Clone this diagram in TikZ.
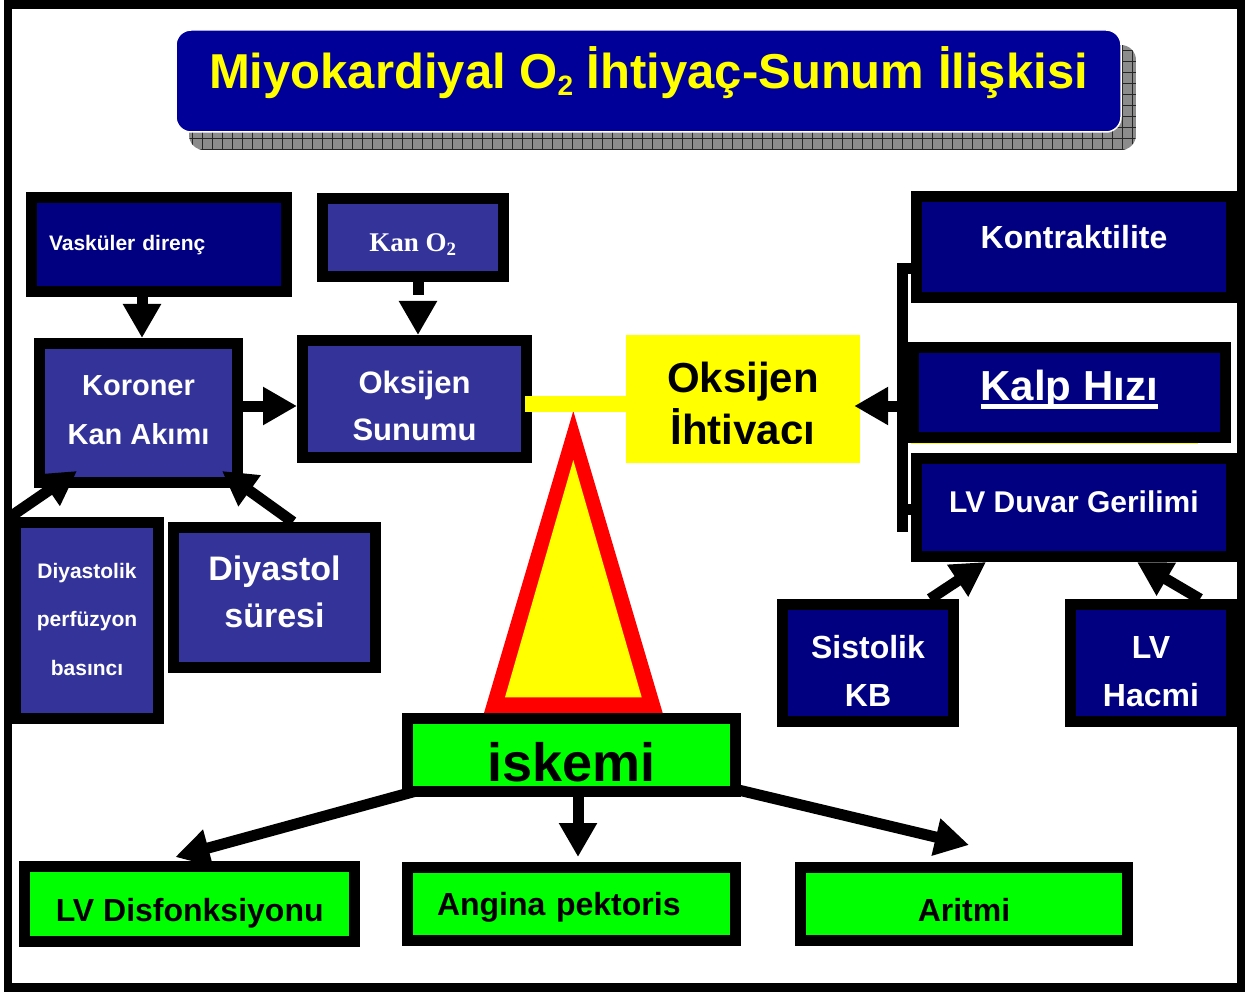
\documentclass[tikz,border=0pt]{standalone}
\usepackage{fontspec}
\setmainfont{Liberation Sans}
\newfontfamily\serifb{Liberation Serif}
\usetikzlibrary{arrows.meta,calc,backgrounds}
\definecolor{navyc}{HTML}{000080}
\definecolor{bluec}{HTML}{333399}
\definecolor{titlec}{HTML}{000099}
\definecolor{greenc}{HTML}{00FF00}
\definecolor{yellowc}{HTML}{FFFF00}
\definecolor{redc}{HTML}{FF0000}
% underlined label with a thick bar
\newcommand\kalpul[1]{\setbox0\hbox{#1}\rlap{\rule[-8.5pt]{\wd0}{4.5pt}}\box0}
\newcommand\fs[2]{\bfseries\fontsize{#1}{#2}\selectfont}
\tikzset{
  bx/.style={draw=black, line width=11pt, inner sep=0pt, align=center, text=white},
  gbx/.style={bx, fill=greenc, text=black},
  arr/.style={line width=11pt, -{Triangle[length=34pt,width=36pt]}},
  bar/.style={line width=11pt},
}
\begin{document}
\begin{tikzpicture}[x=1pt,y=-1pt]
\useasboundingbox (0,0) rectangle (1256,992);
% outer frame
\draw[line width=8.5pt] (8,4.3) rectangle (1241,987.5);

% title shadow with grid texture
\begin{scope}
  \clip[rounded corners=15pt] (189,45) rectangle (1136,150);
  \fill[black!45] (189,45) rectangle (1136,150);
  \foreach \gx in {192,202,...,1136} \draw[black!85, line width=0.8pt] (\gx,45) -- (\gx,150);
  \foreach \gy in {50,61,...,150} \draw[black!85, line width=0.8pt] (189,\gy) -- (1136,\gy);
\end{scope}
\node[draw=white, line width=1.5pt, fill=titlec, rounded corners=15pt, minimum width=945pt, minimum height=102pt,
      inner sep=0pt, text=yellowc, font=\fs{49}{55}, text height=15pt, text depth=0pt] (title) at (648.5,81)
      {Miyokardiyal O\raisebox{-7pt}{\fontsize{28}{28}\selectfont 2} İhtiyaç-Sunum İlişkisi};

% warning triangle
\fill[redc] (573.3,411) -- (662.7,713) -- (484,713) -- cycle;
\fill[yellowc] (573.3,460) -- (641.7,697.3) -- (505,697.3) -- cycle;

% supply side
\node[bx, fill=navyc, minimum width=255pt, minimum height=94pt, text width=220pt, align=left,
      font=\fs{21}{25}, text height=13pt, text depth=0pt] (vas) at (159,244.5) {Vasküler direnç};
\node[bx, fill=bluec, minimum width=181pt, minimum height=78pt,
      font=\serifb\fs{27}{30}, text height=29pt, text depth=0pt] (kano) at (413,237.5) {Kan O\textsubscript{2}};
\node[bx, fill=bluec, minimum width=198pt, minimum height=139pt,
      font=\fs{29}{49}, text height=62pt, text depth=0pt] (kor) at (138.5,413) {Koroner\\Kan Akımı};
\node[bx, fill=bluec, minimum width=224pt, minimum height=117pt,
      font=\fs{31}{47}, text height=82.6pt, text depth=0pt] (sun) at (414.5,399) {Oksijen\\Sunumu};
\node[bx, fill=bluec, minimum width=143pt, minimum height=196pt,
      font=\fs{21}{48.5}, text height=109pt, text depth=0pt] (dpb) at (87,620.5) {Diyastolik\\perfüzyon\\basıncı};
\node[bx, fill=bluec, minimum width=202pt, minimum height=140pt,
      font=\fs{34}{47}, text height=59pt, text depth=0pt] (dsu) at (274.5,597.5) {Diyastol\\süresi};

% demand side
\node[fill=yellowc, minimum width=234pt, minimum height=128pt, inner sep=0pt, align=center,
      font=\fs{42}{52}, text height=90pt, text depth=0pt] (iht) at (743,399) {Oksijen\\İhtiyacı};
\fill[yellowc] (660,443.5) rectangle (830,458);
\node[bx, fill=navyc, minimum width=315pt, minimum height=101pt,
      font=\fs{32}{36}, text height=4pt, text depth=0pt] (kon) at (1074,247) {Kontraktilite};
\node[bx, fill=navyc, minimum width=311.7pt, minimum height=89.7pt,
      font=\fs{42}{46}, text height=16pt, text depth=0pt] (kal) at (1069.3,392.3) {\kalpul{Kalp Hızı}};
\fill[yellowc] (911,442.7) rectangle (1198,444.2);
\node[bx, fill=navyc, minimum width=315pt, minimum height=98pt,
      font=\fs{30}{34}, text height=9pt, text depth=0pt] (lvd) at (1074,507.5) {LV Duvar Gerilimi};
\node[bx, fill=navyc, minimum width=171pt, minimum height=117pt,
      font=\fs{32}{48}, text height=86.6pt, text depth=0pt] (sis) at (868,663) {Sistolik\\KB};
\node[bx, fill=navyc, minimum width=161pt, minimum height=117pt,
      font=\fs{32}{48}, text height=86pt, text depth=0pt] (lvh) at (1151,663) {LV\\Hacmi};

% consequences
\node[gbx, minimum width=328pt, minimum height=73pt,
      font=\fs{54}{58}, text height=52pt, text depth=0pt] (isk) at (571.5,755) {iskemi};
\node[gbx, minimum width=329.7pt, minimum height=75pt,
      font=\fs{32}{36}, text height=35.4pt, text depth=0pt] (lvdis) at (189.7,904) {LV Disfonksiyonu};
\node[gbx, minimum width=328pt, minimum height=73pt, text width=269pt, align=left,
      font=\fs{32}{36}, text height=22pt, text depth=0pt] (ang) at (571.5,904) {Angina pektoris};
\node[gbx, minimum width=327pt, minimum height=73pt,
      font=\fs{32}{36}, text height=34pt, text depth=0pt] (ari) at (964,904) {Aritmi};

% supply arrows
\draw[arr] (vas.south -| 142,0) -- (kor.north -| 142,0);
\draw[arr, dash pattern=on 13pt off 30pt] (kano.south -| 418,0) -- (sun.north -| 418,0);
\draw[arr] (kor.east |- 0,406) -- (sun.west |- 0,406);
\draw[arr] (dpb.north west) -- ($(kor.south west)+(43,-17)$);
\draw[arr] (dsu.north -| 293,0) -- ($(kor.south east)+(-21,-17)$);
\draw[line width=15.5pt, yellowc] ($(sun.east |- 0,404)+(-7,0)$) -- (iht.west |- 0,404);

% demand bracket and arrows
\coordinate (brend) at (902.5,532);
\draw[bar] (kon.west |- 0,269) -| (brend);
\draw[bar] (lvd.west |- 0,509) -- (brend |- 0,509);
\draw[arr] (brend |- 0,406) -- ($(iht.east |- 0,406)+(-6,0)$);
\draw[arr] (sis.north -| 930,0) -- (lvd.south -| 986,0);
\draw[arr] (lvh.north -| 1200,0) -- (lvd.south -| 1137,0);

% ischaemia outcomes
\begin{scope}[on background layer]
  \draw[arr] ($(isk.south west)+(18,-7)$) -- ($(lvdis.north west)+(156,-4)$);
  \draw[arr] ($(isk.south east)+(-11,-9)$) -- ($(ari.north west)+(174,-17)$);
\end{scope}
\draw[arr, shorten >=5pt] (isk.south -| 578,0) -- (ang.north -| 578,0);
\end{tikzpicture}
\end{document}
